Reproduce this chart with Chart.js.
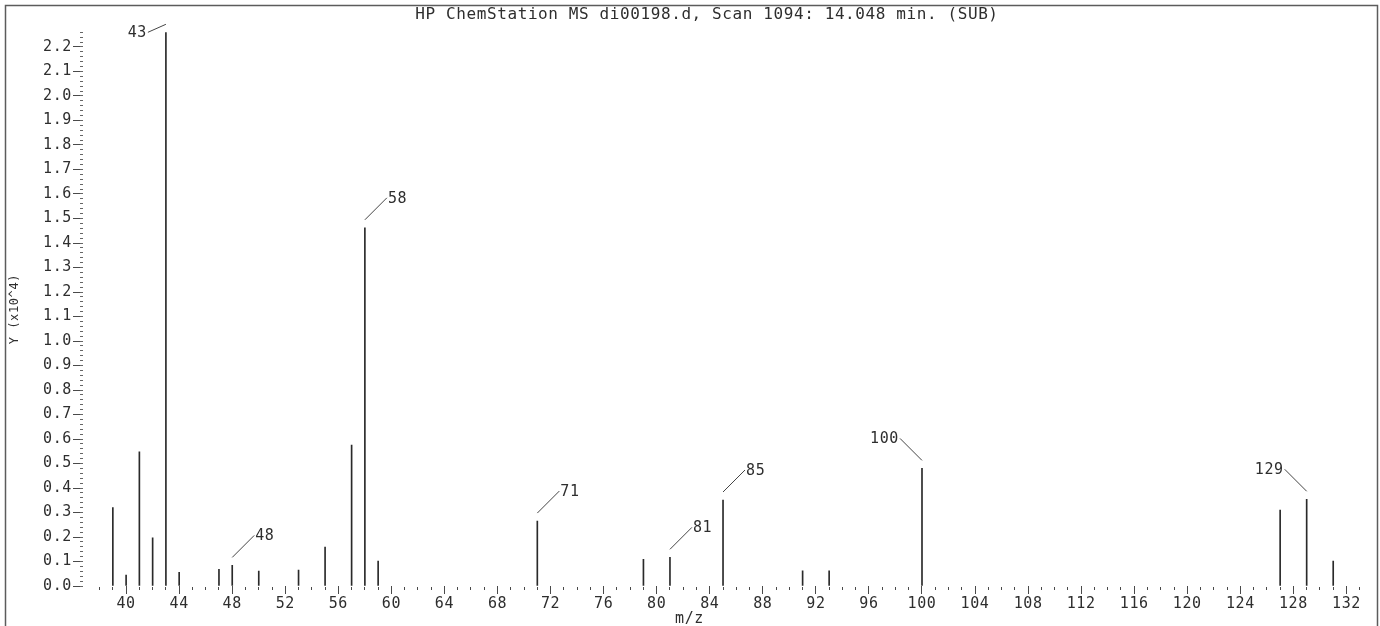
<!DOCTYPE html>
<html>
<head>
<meta charset="utf-8">
<script src="https://cdn.jsdelivr.net/npm/chart.js@4/dist/chart.umd.min.js"></script>
<style>
  html, body { margin: 0; padding: 0; background: #fff; }
  #wrap { position: relative; width: 1380px; height: 626px; }
</style>
</head>
<body>
<div id="wrap"><canvas id="ms"></canvas></div>
<script>
// Mass spectrum: scan 1094 at 14.048 min
const titleText = '    HP ChemStation MS di00198.d, Scan 1094: 14.048 min. (SUB)';
const xAxisTitle = 'm/z        ';
const yAxisTitle = 'Y (x10^4)';

// m/z of each ion and its abundance (x10^4 counts)
const mzValues  = [39, 40, 41, 42, 43, 44, 47, 48, 50, 53, 55, 57, 58, 59,
                   71, 79, 81, 85, 91, 93, 100, 127, 129, 131];
const abundance = [0.320, 0.045, 0.548, 0.197, 2.260, 0.056, 0.068, 0.084, 0.061, 0.065, 0.159, 0.575, 1.462, 0.102,
                   0.265, 0.109, 0.117, 0.351, 0.062, 0.062, 0.480, 0.310, 0.354, 0.102];

// ions annotated with their m/z, and which side the annotation sits on
const labeledPeaks = [43, 48, 58, 71, 81, 85, 100, 129];
const labelSides   = ['left', 'right', 'right', 'right', 'right', 'right', 'left', 'left'];

const xTickLabels = ['40', '44', '48', '52', '56', '60', '64', '68', '72', '76', '80', '84', '88',
                     '92', '96', '100', '104', '108', '112', '116', '120', '124', '128', '132'];
const yTickLabels = ['0.0', '0.1', '0.2', '0.3', '0.4', '0.5', '0.6', '0.7', '0.8', '0.9', '1.0', '1.1',
                     '1.2', '1.3', '1.4', '1.5', '1.6', '1.7', '1.8', '1.9', '2.0', '2.1', '2.2'];

const FONT = '"DejaVu Sans Mono", "Liberation Mono", monospace';
const INK = '#2e2e2e';
const TICK = '#4a4a4a';
const SPACING = '0.6px';
const X_MIN = 36.75, X_MAX = 134;
const Y_MAX = Math.max(...abundance);

// slightly open plotter-style lettering for every text item on the canvas
const letterSpacing = {
  id: 'letterSpacing',
  beforeLayout(chart) { chart.ctx.letterSpacing = SPACING; },
  beforeDraw(chart) { chart.ctx.letterSpacing = SPACING; }
};

// open page frame (top, left, right)
const pageFrame = {
  id: 'pageFrame',
  beforeDraw(chart) {
    const c = chart.ctx, w = chart.width, h = chart.height;
    c.save();
    c.strokeStyle = '#5c5c5c';
    c.lineWidth = 1.5;
    c.beginPath();
    c.moveTo(5.5, h);
    c.lineTo(5.5, 5.5);
    c.lineTo(w - 2.5, 5.5);
    c.lineTo(w - 2.5, h);
    c.stroke();
    c.restore();
  }
};

// m/z annotations with leader lines above the major ions
const peakLabels = {
  id: 'peakLabels',
  afterDatasetsDraw(chart) {
    const { ctx, chartArea } = chart;
    const xs = chart.scales.x, ys = chart.scales.y;
    ctx.save();
    ctx.letterSpacing = SPACING;
    ctx.font = '15px ' + FONT;
    ctx.fillStyle = INK;
    ctx.strokeStyle = '#444';
    ctx.lineWidth = 1;
    ctx.textBaseline = 'middle';
    labeledPeaks.forEach((mz, i) => {
      const v = abundance[mzValues.indexOf(mz)];
      const px = xs.getPixelForValue(mz);
      const py = ys.getPixelForValue(v);
      const dir = labelSides[i] === 'left' ? -1 : 1;
      const sx = px, sy = py - 8;
      let ex = sx + dir * 22, ey = sy - 22;
      if (ey < chartArea.top) { ex = sx + dir * 18; ey = sy + 8; }
      ctx.beginPath();
      ctx.moveTo(sx, sy);
      ctx.lineTo(ex, ey);
      ctx.stroke();
      ctx.textAlign = dir < 0 ? 'right' : 'left';
      ctx.fillText(String(mz), ex + dir * 1, ey + 1);
    });
    ctx.restore();
  }
};

const xMinorTicks = [];
for (let m = 38; m <= 133; m++) xMinorTicks.push({ value: m });
const yMinorTicks = [];
for (let i = 0; i * 0.02 <= Y_MAX + 1e-9; i++) yMinorTicks.push({ value: i / 50 });

new Chart(document.getElementById('ms'), {
  type: 'bar',
  data: {
    datasets: [{
      data: mzValues.map((m, i) => ({ x: m, y: abundance[i] })),
      backgroundColor: '#2a2a2a',
      borderWidth: 0,
      barThickness: 1,
      xAxisID: 'x',
      yAxisID: 'y'
    }]
  },
  options: {
    responsive: true,
    maintainAspectRatio: false,
    animation: false,
    events: [],
    layout: { padding: { left: 0, right: 7, top: 0, bottom: 0 } },
    plugins: {
      legend: { display: false },
      tooltip: { enabled: false },
      title: {
        display: true,
        text: titleText,
        color: INK,
        font: { family: FONT, size: 16, weight: 'normal', lineHeight: 1.1 },
        padding: { top: 6, bottom: 8.7 }
      }
    },
    scales: {
      x: {
        type: 'linear', position: 'bottom', weight: 1,
        min: X_MIN, max: X_MAX, offset: false,
        afterBuildTicks: s => { s.ticks = xTickLabels.map(t => ({ value: Number(t) })); },
        afterFit: s => { s.height = 40; },
        ticks: {
          autoSkip: false, maxRotation: 0, padding: 1, color: INK,
          font: { family: FONT, size: 15 },
          callback: (v, i) => xTickLabels[i]
        },
        grid: { drawOnChartArea: false, offset: false, tickLength: 8, tickColor: TICK, tickWidth: 1 },
        border: { display: false },
        title: {
          display: true, text: xAxisTitle, color: INK,
          font: { family: FONT, size: 15, lineHeight: 1.0 },
          padding: { top: 0, bottom: -1 }
        }
      },
      xMinor: {
        type: 'linear', position: 'bottom', weight: 0,
        min: X_MIN, max: X_MAX, offset: false,
        afterBuildTicks: s => { s.ticks = xMinorTicks.slice(); },
        afterFit: s => { s.height = 0; },
        ticks: { display: false },
        grid: { drawOnChartArea: false, offset: false, tickLength: 5, tickColor: TICK, tickWidth: 1,
                tickBorderDash: [0, 1, 3, 10] },
        border: { display: false }
      },
      y: {
        type: 'linear', position: 'left', weight: 1,
        min: 0, max: Y_MAX,
        afterBuildTicks: s => { s.ticks = yTickLabels.map(t => ({ value: Number(t) })); },
        afterFit: s => { s.width = 83; },
        ticks: {
          padding: 1, color: INK,
          font: { family: FONT, size: 15 },
          callback: (v, i) => yTickLabels[i]
        },
        grid: { drawOnChartArea: false, tickLength: 10, tickColor: TICK, tickWidth: 1 },
        border: { display: false },
        title: {
          display: true, text: yAxisTitle, color: INK,
          font: { family: FONT, size: 12, lineHeight: 1.2 },
          padding: { top: 8, bottom: 0 }
        }
      },
      yMinor: {
        type: 'linear', position: 'left', weight: 0,
        min: 0, max: Y_MAX,
        afterBuildTicks: s => { s.ticks = yMinorTicks.slice(); },
        afterFit: s => { s.width = 0; },
        ticks: { display: false },
        grid: { drawOnChartArea: false, tickLength: 3, tickColor: '#666', tickWidth: 1 },
        border: { display: false }
      }
    }
  },
  plugins: [letterSpacing, pageFrame, peakLabels]
});
</script>
</body>
</html>
